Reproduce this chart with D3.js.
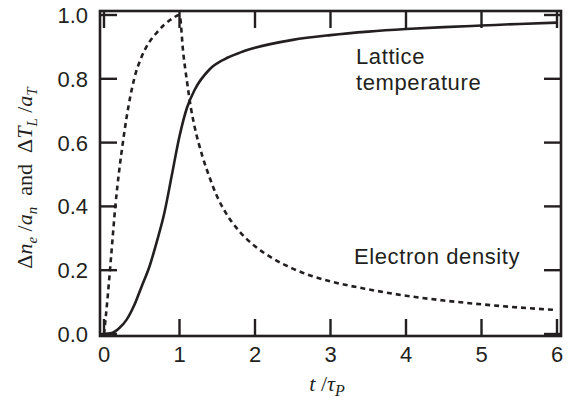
<!DOCTYPE html>
<html lang="en">
<head>
  <meta charset="UTF-8" />
  <title>Lattice temperature and electron density</title>
  <style>
    body { margin: 0; background: #fff; }
    svg { display: block; }
    .tick-label { font-family: "Liberation Sans", Arial, sans-serif; font-size: 22px; fill: #231f20; }
    .note { font-family: "Liberation Sans", Arial, sans-serif; font-size: 22px; letter-spacing: 0.6px; fill: #231f20; }
    .math { font-family: "Liberation Serif", "Times New Roman", serif; font-size: 22px; fill: #231f20; }
  </style>
</head>
<body>
  <svg id="chart" width="577" height="400" viewBox="0 0 577 400" xmlns="http://www.w3.org/2000/svg"></svg>

  <script src="https://d3js.org/d3.v7.min.js"></script>
  <script>
    const width = 577;
    const height = 400;
    const svg = d3.select("#chart");
    const ink = "#231f20";

    // values
    const tLattice = [0, 0.1, 0.2, 0.3, 0.4, 0.5, 0.6, 0.7, 0.8, 0.9, 1.0, 1.1, 1.2, 1.4, 1.6, 1.8, 2.0, 2.5, 3.0, 3.5, 4.0, 4.5, 5.0, 5.5, 6.0];
    const lattice = [0, 0.003, 0.018, 0.045, 0.09, 0.15, 0.21, 0.29, 0.38, 0.50, 0.62, 0.71, 0.765, 0.83, 0.862, 0.882, 0.897, 0.922, 0.937, 0.948, 0.956, 0.962, 0.967, 0.972, 0.976];
    const tElectron = [0, 0.05, 0.1, 0.15, 0.2, 0.25, 0.3, 0.4, 0.5, 0.6, 0.7, 0.8, 0.9, 1.0, 1.05, 1.1, 1.15, 1.2, 1.3, 1.4, 1.5, 1.6, 1.8, 2.0, 2.25, 2.5, 2.75, 3.0, 3.5, 4.0, 4.5, 5.0, 5.5, 6.0];
    const electron = [0, 0.12, 0.26, 0.40, 0.51, 0.60, 0.68, 0.80, 0.87, 0.915, 0.945, 0.97, 0.988, 1.0, 0.88, 0.79, 0.71, 0.65, 0.56, 0.49, 0.43, 0.385, 0.32, 0.275, 0.235, 0.205, 0.182, 0.165, 0.14, 0.12, 0.105, 0.093, 0.083, 0.075];
    const xTicks = [0, 1, 2, 3, 4, 5, 6];
    const yTicks = [0, 0.2, 0.4, 0.6, 0.8, 1.0];

    const x = d3.scaleLinear().domain([0, 6]).range([104, 557]);
    const y = d3.scaleLinear().domain([0, 1]).range([334, 15]);
    const tickLen = 17;

    // frame sits a few px outside the data range
    const frameL = x.range()[0] - 4, frameR = x.range()[1] + 4;
    const frameT = y.range()[1] - 4, frameB = y.range()[0] + 2;

    // curves
    const line = d3.line()
      .x(d => x(d[0]))
      .y(d => y(d[1]))
      .curve(d3.curveMonotoneX);

    svg.append("path")
      .datum(tLattice.map((t, i) => [t, lattice[i]]))
      .attr("d", line)
      .attr("fill", "none")
      .attr("stroke", ink)
      .attr("stroke-width", 2.6);

    svg.append("path")
      .datum(tElectron.map((t, i) => [t, electron[i]]))
      .attr("d", line)
      .attr("fill", "none")
      .attr("stroke", ink)
      .attr("stroke-width", 2.6)
      .attr("stroke-dasharray", "5,4");

    // frame
    svg.append("rect")
      .attr("x", frameL).attr("y", frameT)
      .attr("width", frameR - frameL).attr("height", frameB - frameT)
      .attr("fill", "none")
      .attr("stroke", ink)
      .attr("stroke-width", 2.6);

    // ticks on all four sides, pointing inward
    const ticks = svg.append("g").attr("stroke", ink).attr("stroke-width", 2.4);
    xTicks.forEach(t => {
      ticks.append("line").attr("x1", x(t)).attr("x2", x(t)).attr("y1", frameB).attr("y2", frameB - tickLen);
      ticks.append("line").attr("x1", x(t)).attr("x2", x(t)).attr("y1", frameT).attr("y2", frameT + tickLen);
    });
    yTicks.forEach(v => {
      ticks.append("line").attr("x1", frameL).attr("x2", frameL + tickLen).attr("y1", y(v)).attr("y2", y(v));
      ticks.append("line").attr("x1", frameR).attr("x2", frameR - tickLen).attr("y1", y(v)).attr("y2", y(v));
    });

    // tick labels
    svg.append("g").selectAll("text")
      .data(xTicks).enter().append("text")
      .attr("class", "tick-label")
      .attr("x", d => x(d))
      .attr("y", 362)
      .attr("text-anchor", "middle")
      .text(d => d3.format("d")(d));

    svg.append("g").selectAll("text")
      .data(yTicks).enter().append("text")
      .attr("class", "tick-label")
      .attr("x", 88)
      .attr("y", d => y(d))
      .attr("dy", "0.36em")
      .attr("text-anchor", "end")
      .text(d => d3.format(".1f")(d));

    // x axis title: t / tau_P
    const xt = svg.append("text")
      .attr("class", "math")
      .attr("x", 327)
      .attr("y", 391)
      .attr("font-size", "24px")
      .attr("text-anchor", "middle");
    xt.append("tspan").attr("font-style", "italic").text("t");
    xt.append("tspan").text(" /");
    xt.append("tspan").attr("font-style", "italic").text("τ");
    xt.append("tspan").attr("font-style", "italic").attr("font-size", "16px").attr("dy", 5).text("P");

    // y axis title
    const yt = svg.append("text")
      .attr("class", "math")
      .attr("transform", "translate(32,178) rotate(-90)")
      .attr("text-anchor", "middle");
    const part = (txt, opts = {}) => {
      const s = yt.append("tspan").text(txt);
      if (opts.italic) s.attr("font-style", "italic");
      if (opts.sub) s.attr("font-size", "15px").attr("dy", 5);
      if (opts.up) s.attr("dy", -5);
      return s;
    };
    part("Δ");
    part("n", { italic: true });
    part("e", { italic: true, sub: true });
    part(" /", { up: true });
    part("a", { italic: true });
    part("n", { italic: true, sub: true });
    part("\u00a0 and \u00a0", { up: true });
    part("Δ");
    part("T", { italic: true });
    part("L", { italic: true, sub: true });
    part(" /", { up: true });
    part("a", { italic: true });
    part("T", { italic: true, sub: true });

    // curve annotations
    svg.append("text").attr("class", "note").attr("x", 356).attr("y", 64).text("Lattice");
    svg.append("text").attr("class", "note").attr("x", 356).attr("y", 90).text("temperature");
    svg.append("text").attr("class", "note").attr("x", 354).attr("y", 264).text("Electron density");
  </script>
</body>
</html>
